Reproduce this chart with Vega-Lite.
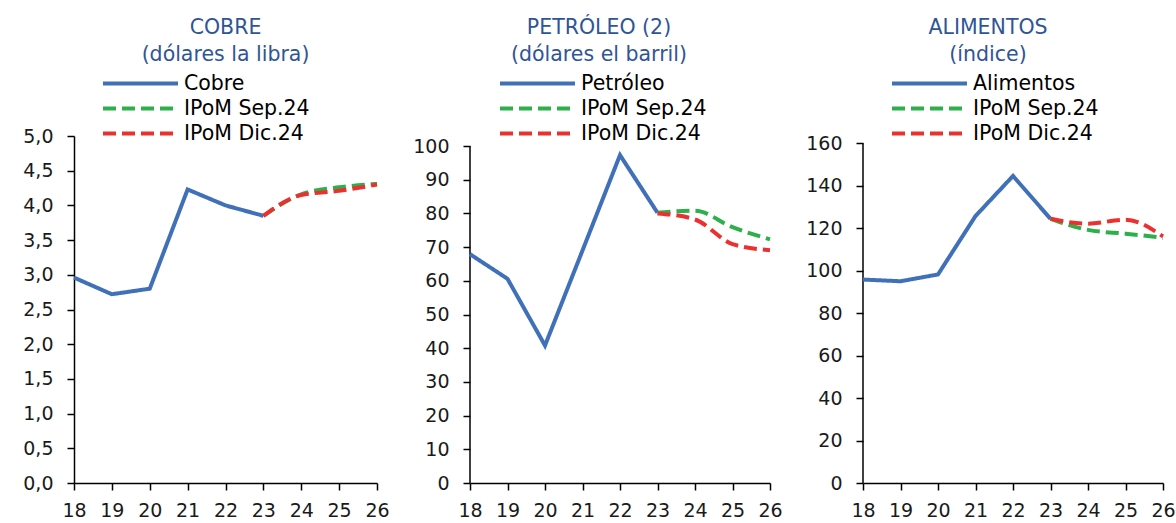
{
  "$schema": "https://vega.github.io/schema/vega-lite/v6.json",
  "padding": {"left": 22, "top": 18, "right": 0, "bottom": 0},
  "bounds": "full",
  "spacing": 22,
  "datasets": {
    "cobre": [
      {"series": "Cobre", "year": 18, "value": 2.96},
      {"series": "Cobre", "year": 19, "value": 2.72},
      {"series": "Cobre", "year": 20, "value": 2.80},
      {"series": "Cobre", "year": 21, "value": 4.23},
      {"series": "Cobre", "year": 22, "value": 4.00},
      {"series": "Cobre", "year": 23, "value": 3.85},
      {"series": "IPoM Sep.24", "year": 23, "value": 3.85},
      {"series": "IPoM Sep.24", "year": 24, "value": 4.16},
      {"series": "IPoM Sep.24", "year": 25, "value": 4.26},
      {"series": "IPoM Sep.24", "year": 26, "value": 4.31},
      {"series": "IPoM Dic.24", "year": 23, "value": 3.85},
      {"series": "IPoM Dic.24", "year": 24, "value": 4.15},
      {"series": "IPoM Dic.24", "year": 25, "value": 4.21},
      {"series": "IPoM Dic.24", "year": 26, "value": 4.30}
    ],
    "petroleo": [
      {"series": "Petróleo", "year": 18, "value": 67.9},
      {"series": "Petróleo", "year": 19, "value": 60.6},
      {"series": "Petróleo", "year": 20, "value": 40.8},
      {"series": "Petróleo", "year": 21, "value": 69.0},
      {"series": "Petróleo", "year": 22, "value": 97.3},
      {"series": "Petróleo", "year": 23, "value": 80.2},
      {"series": "IPoM Sep.24", "year": 23, "value": 80.2},
      {"series": "IPoM Sep.24", "year": 24, "value": 80.8},
      {"series": "IPoM Sep.24", "year": 25, "value": 75.9},
      {"series": "IPoM Sep.24", "year": 26, "value": 72.3},
      {"series": "IPoM Dic.24", "year": 23, "value": 80.0},
      {"series": "IPoM Dic.24", "year": 24, "value": 78.2},
      {"series": "IPoM Dic.24", "year": 25, "value": 70.9},
      {"series": "IPoM Dic.24", "year": 26, "value": 69.1}
    ],
    "alimentos": [
      {"series": "Alimentos", "year": 18, "value": 95.8},
      {"series": "Alimentos", "year": 19, "value": 95.0},
      {"series": "Alimentos", "year": 20, "value": 98.2},
      {"series": "Alimentos", "year": 21, "value": 125.7},
      {"series": "Alimentos", "year": 22, "value": 144.6},
      {"series": "Alimentos", "year": 23, "value": 124.4},
      {"series": "IPoM Sep.24", "year": 23, "value": 124.4},
      {"series": "IPoM Sep.24", "year": 24, "value": 119.2},
      {"series": "IPoM Sep.24", "year": 25, "value": 117.4},
      {"series": "IPoM Sep.24", "year": 26, "value": 115.5},
      {"series": "IPoM Dic.24", "year": 23, "value": 124.4},
      {"series": "IPoM Dic.24", "year": 24, "value": 122.1},
      {"series": "IPoM Dic.24", "year": 25, "value": 124.0},
      {"series": "IPoM Dic.24", "year": 26, "value": 116.1}
    ],
    "axisbase": [{"year": 18, "value": 0}]
  },
  "hconcat": [
    {
      "width": 303,
      "height": 347,
      "title": {"text": ["COBRE", "(dólares la libra)"], "dx": 0},
      "data": {"name": "cobre"},
      "encoding": {
        "x": {"field": "year", "type": "quantitative", "title": null, "scale": {"domain": [18, 26], "nice": false, "zero": false}, "axis": {"values": [18, 19, 20, 21, 22, 23, 24, 25, 26], "format": "d"}},
        "y": {"field": "value", "type": "quantitative", "title": null, "scale": {"domain": [0, 5], "nice": false}, "axis": {"values": [0, 0.5, 1, 1.5, 2, 2.5, 3, 3.5, 4, 4.5, 5], "format": ".1f"}},
        "color": {"field": "series", "type": "nominal", "title": null, "scale": {"domain": ["Cobre", "IPoM Sep.24", "IPoM Dic.24"], "range": ["#3F70B8", "#2DB04B", "#EC3030"]}, "legend": {"orient": "none", "legendX": 52, "legendY": -67}},
        "strokeDash": {"field": "series", "type": "nominal", "title": null, "scale": {"domain": ["Cobre", "IPoM Sep.24", "IPoM Dic.24"], "range": [[1, 0], [13, 6], [13, 6]]}, "legend": {"orient": "none", "legendX": 52, "legendY": -67}}
      },
      "layer": [
        {"transform": [{"filter": "datum.series === 'Cobre'"}], "mark": {"type": "line"}},
        {"transform": [{"filter": "datum.series === 'IPoM Sep.24'"}], "mark": {"type": "line", "interpolate": "monotone"}},
        {"transform": [{"filter": "datum.series === 'IPoM Dic.24'"}], "mark": {"type": "line", "interpolate": "monotone"}}
      ]
    },
    {
      "width": 300,
      "height": 347,
      "title": {"text": ["PETRÓLEO (2)", "(dólares el barril)"], "dx": -21},
      "encoding": {
        "x": {"field": "year", "type": "quantitative", "title": null, "scale": {"domain": [18, 26], "nice": false, "zero": false}, "axis": {"values": [18, 19, 20, 21, 22, 23, 24, 25, 26], "format": "d"}},
        "y": {"field": "value", "type": "quantitative", "title": null, "scale": {"domain": [0, 102.97], "nice": false}, "axis": {"values": [0, 10, 20, 30, 40, 50, 60, 70, 80, 90, 100], "format": "d", "domain": false}}
      },
      "layer": [
        {
          "data": {"name": "axisbase"},
          "mark": {"type": "rule", "color": "#000000", "strokeWidth": 1.5},
          "encoding": {"y2": {"datum": 100}}
        },
        {
          "data": {"name": "petroleo"},
          "encoding": {
            "color": {"field": "series", "type": "nominal", "title": null, "scale": {"domain": ["Petróleo", "IPoM Sep.24", "IPoM Dic.24"], "range": ["#3F70B8", "#2DB04B", "#EC3030"]}, "legend": {"orient": "none", "legendX": 53, "legendY": -67}},
            "strokeDash": {"field": "series", "type": "nominal", "title": null, "scale": {"domain": ["Petróleo", "IPoM Sep.24", "IPoM Dic.24"], "range": [[1, 0], [13, 6], [13, 6]]}, "legend": {"orient": "none", "legendX": 53, "legendY": -67}}
          },
          "layer": [
            {"transform": [{"filter": "datum.series === 'Petróleo'"}], "mark": {"type": "line"}},
            {"transform": [{"filter": "datum.series === 'IPoM Sep.24'"}], "mark": {"type": "line", "interpolate": "monotone"}},
            {"transform": [{"filter": "datum.series === 'IPoM Dic.24'"}], "mark": {"type": "line", "interpolate": "monotone"}}
          ]
        }
      ]
    },
    {
      "width": 300,
      "height": 347,
      "title": {"text": ["ALIMENTOS", "(índice)"], "dx": -25},
      "encoding": {
        "x": {"field": "year", "type": "quantitative", "title": null, "scale": {"domain": [18, 26], "nice": false, "zero": false}, "axis": {"values": [18, 19, 20, 21, 22, 23, 24, 25, 26], "format": "d"}},
        "y": {"field": "value", "type": "quantitative", "title": null, "scale": {"domain": [0, 163.4], "nice": false}, "axis": {"values": [0, 20, 40, 60, 80, 100, 120, 140, 160], "format": "d", "domain": false}}
      },
      "layer": [
        {
          "data": {"name": "axisbase"},
          "mark": {"type": "rule", "color": "#000000", "strokeWidth": 1.5},
          "encoding": {"y2": {"datum": 160}}
        },
        {
          "data": {"name": "alimentos"},
          "encoding": {
            "color": {"field": "series", "type": "nominal", "title": null, "scale": {"domain": ["Alimentos", "IPoM Sep.24", "IPoM Dic.24"], "range": ["#3F70B8", "#2DB04B", "#EC3030"]}, "legend": {"orient": "none", "legendX": 52, "legendY": -67}},
            "strokeDash": {"field": "series", "type": "nominal", "title": null, "scale": {"domain": ["Alimentos", "IPoM Sep.24", "IPoM Dic.24"], "range": [[1, 0], [13, 6], [13, 6]]}, "legend": {"orient": "none", "legendX": 52, "legendY": -67}}
          },
          "layer": [
            {"transform": [{"filter": "datum.series === 'Alimentos'"}], "mark": {"type": "line"}},
            {"transform": [{"filter": "datum.series === 'IPoM Sep.24'"}], "mark": {"type": "line", "interpolate": "monotone"}},
            {"transform": [{"filter": "datum.series === 'IPoM Dic.24'"}], "mark": {"type": "line", "interpolate": "monotone"}}
          ]
        }
      ]
    }
  ],
  "resolve": {"scale": {"color": "independent", "strokeDash": "independent", "x": "independent", "y": "independent"}},
  "config": {
    "font": "DejaVu Sans",
    "background": "white",
    "view": {"stroke": null},
    "locale": {"number": {"decimal": ",", "thousands": ".", "grouping": [3], "currency": ["$", ""]}},
    "axis": {"domainColor": "#000000", "domainWidth": 1.5, "tickColor": "#000000", "tickWidth": 1.5, "tickSize": 7, "labelFontSize": 19, "labelColor": "#1a1a1a", "grid": false, "labelFlush": false, "labelOverlap": false},
    "axisX": {"labelPadding": 11},
    "axisY": {"labelPadding": 14},
    "line": {"strokeWidth": 4},
    "legend": {"symbolType": "M-3,0H3", "symbolSize": 625, "symbolStrokeWidth": 4, "labelFontSize": 20.5, "labelColor": "#000000", "labelOffset": 29, "rowPadding": -2, "padding": 0},
    "title": {"fontSize": 20.5, "color": "#2F5597", "fontWeight": "normal", "lineHeight": 27, "anchor": "middle", "offset": 3.5}
  }
}
